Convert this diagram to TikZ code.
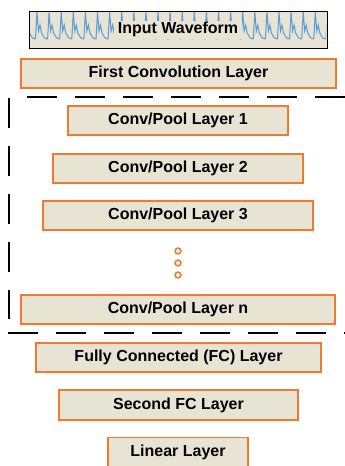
\documentclass[tikz,border=0pt]{standalone}
\usepackage{fontspec}
\setsansfont{Liberation Sans}
\definecolor{layerfill}{RGB}{231,228,212}
\definecolor{layeredge}{RGB}{240,122,48}
\definecolor{wave}{RGB}{91,155,213}

\begin{document}
\begin{tikzpicture}[x=1pt,y=-1pt,
  layer/.style={draw=layeredge, line width=1.5pt, fill=layerfill, minimum height=29pt,
    inner sep=0pt, font=\sffamily\bfseries\fontsize{16}{18}\selectfont},
  sep/.style={line width=1.3pt, dash pattern=on 30pt off 18pt}]
\useasboundingbox (0,0) rectangle (345,466);

% input waveform
\node[draw=black, line width=0.8pt, fill=layerfill, minimum width=298pt, minimum height=37pt, inner sep=0pt] (input) at (178,29.5) {};
\begin{scope}
\clip (30,12) rectangle (326,47);
\foreach \i in {-1,...,25}
  \draw[wave, line width=1pt, xshift=35.5pt+\i*12.1pt]
    (0,39) -- (1.5,12) -- (3,31) -- (4.5,25) -- (6,33) -- (9,38) -- (12.1,39);
\end{scope}
\node[fill=layerfill, inner xsep=4pt, inner ysep=0pt, minimum height=18pt,
  font=\sffamily\bfseries\fontsize{16}{18}\selectfont] (inlabel) at (input.center) {Input Waveform};

% layers
\node[layer, minimum width=315pt] (first) at (178.5,73.5) {First Convolution Layer};
\node[layer, minimum width=220pt] (cp1) at (178,120.5) {Conv/Pool Layer 1};
\node[layer, minimum width=250pt] (cp2) at (178,168.5) {Conv/Pool Layer 2};
\node[layer, minimum width=270pt] (cp3) at (178,215.5) {Conv/Pool Layer 3};
\foreach \y in {251,263,275}
  \draw[layeredge, line width=1.6pt] (178,\y) circle (2.9pt);
\node[layer, minimum width=314pt] (cpn) at (178,309.5) {Conv/Pool Layer n};
\node[layer, minimum width=285pt] (fc) at (178.5,357.5) {Fully Connected (FC) Layer};
\node[layer, minimum width=239pt, minimum height=30pt] (fc2) at (178.5,405) {Second FC Layer};
\node[layer, minimum width=140pt] (lin) at (178,452) {Linear Layer};

% dashed frame
\coordinate (septl) at (27,97);
\coordinate (septr) at (345,97);
\coordinate (sepl) at (9,98);
\coordinate (sepbl) at (9,319);
\coordinate (sepbot) at (8,333);
\coordinate (sepbr) at (345,333);
\draw[sep] (septl) -- (septr);
\draw[sep] (sepl) -- (sepbl);
\draw[sep] (sepbot) -- (sepbr);
\end{tikzpicture}
\end{document}
